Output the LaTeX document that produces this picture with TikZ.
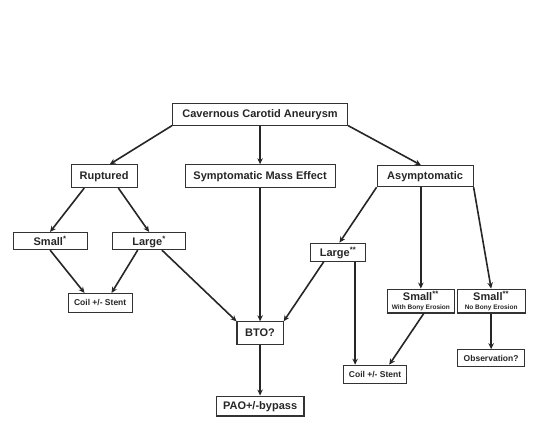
\documentclass[tikz,border=0pt]{standalone}
\usepackage{fontspec}
\setmainfont{Liberation Sans}
\usepackage{tikz}
\usetikzlibrary{arrows.meta, positioning}
\definecolor{ink}{HTML}{262626}

\begin{document}
\begin{tikzpicture}[
  %--- shared node styles -----------------------------------------
  box/.style={
    rectangle, draw=black!80, line width=1.1pt, fill=white,
    minimum height=0.8cm, align=center, text=ink,
    font=\fontsize{11}{12}\selectfont\bfseries,
    text depth=0.05em, inner sep=2pt
  },
  smallbox/.style={
    box, minimum height=0.65cm,
    font=\fontsize{8.5}{9}\selectfont\bfseries
  },
  twoline/.style={
    box, minimum height=0.84cm, text depth=, inner sep=1pt
  },
  arr/.style={-{Stealth[length=6pt,width=5.5pt]}, line width=1.6pt, color=black!85},
]
\useasboundingbox (-9.14,4.01) rectangle (10.47,-11.0);

%% --- ROW 0  (y=0): root -----------------------------------------
\node[box, minimum width=6.15cm, minimum height=0.77cm] (cca) at (0, 0)
  {Cavernous Carotid Aneurysm};

%% --- ROW 1  (y=-2.18): three presentations ----------------------
\node[box, minimum width=2.32cm] (rup)  at (-5.48, -2.18) {Ruptured};
\node[box, minimum width=5.27cm] (sme)  at ( 0.00, -2.18) {Symptomatic Mass Effect};
\node[box, minimum width=3.37cm, minimum height=0.74cm] (asym) at ( 5.80, -2.18)
  {Asymptomatic};

%% --- ROW 2: size split ------------------------------------------
\node[box, minimum width=2.60cm, minimum height=0.6cm] (smallR) at (-7.38, -4.46)
  {Small\textsuperscript{*}};
\node[box, minimum width=2.57cm, minimum height=0.6cm] (largeR) at (-3.90, -4.46)
  {Large\textsuperscript{*}};
\node[box, minimum width=1.93cm, minimum height=0.63cm] (largeA) at ( 2.74, -4.85)
  {Large\textsuperscript{**}};

%% --- ROW 3: small asymptomatic, bony erosion --------------------
\node[twoline, minimum width=2.35cm] (smallW) at (5.65, -6.57)
  {Small\textsuperscript{**}\\[-3pt]{\fontsize{6.5}{7}\selectfont With Bony Erosion}};
\node[twoline, minimum width=2.39cm] (smallN) at (8.12, -6.57)
  {Small\textsuperscript{**}\\[-3pt]{\fontsize{6.5}{7}\selectfont No Bony Erosion}};

%% --- treatments --------------------------------------------------
\node[smallbox, minimum width=2.25cm, minimum height=0.67cm] (coilL) at (-5.62, -6.64)
  {Coil +/- Stent};
\node[box, minimum width=1.62cm] (bto) at (0, -7.70) {BTO?};
\node[smallbox, minimum width=2.35cm, minimum height=0.6cm] (obs) at (8.12, -8.58)
  {Observation?};
\node[smallbox, minimum width=2.21cm, minimum height=0.63cm] (coilR) at (4.04, -9.14)
  {Coil +/- Stent};
\node[box, minimum width=3.09cm, minimum height=0.7cm] (pao) at (0, -10.26)
  {PAO+/-bypass};

%% --- arrows -----------------------------------------------------
% root -> presentations
\draw[arr] (cca.south west) -- ([xshift=0.2cm]rup.north);
\draw[arr] (cca.south) -- (sme.north);
\draw[arr] (cca.south east) -- ([xshift=-0.15cm]asym.north);
% ruptured -> small / large
\draw[arr] ([xshift=-0.7cm]rup.south) -- (smallR.north);
\draw[arr] ([xshift=0.5cm]rup.south) -- (largeR.north);
% ruptured branch -> coil
\draw[arr] (smallR.south) -- ([xshift=-0.55cm]coilL.north);
\draw[arr] ([xshift=-0.4cm]largeR.south) -- ([xshift=0.4cm]coilL.north);
% everything large -> BTO
\draw[arr] ([xshift=0.45cm]largeR.south) -- (bto.north west);
\draw[arr] (sme.south) -- (bto.north);
\draw[arr] ([xshift=-0.5cm]largeA.south) -- (bto.north east);
% asymptomatic -> three sub-cases
\draw[arr] (asym.south west) -- ([xshift=0.05cm]largeA.north);
\draw[arr] (asym.south -| smallW.north) -- (smallW.north);
\draw[arr] (asym.south east) -- (smallN.north);
% asymptomatic sub-cases -> coil / observation
\draw[arr] ([xshift=0.6cm]largeA.south) coordinate (la) -- (la |- coilR.north);
\draw[arr] ([xshift=0.1cm]smallW.south) -- ([xshift=0.5cm]coilR.north);
\draw[arr] (smallN.south) -- (obs.north);
% BTO -> PAO
\draw[arr] (bto.south) -- (pao.north);

\end{tikzpicture}
\end{document}
